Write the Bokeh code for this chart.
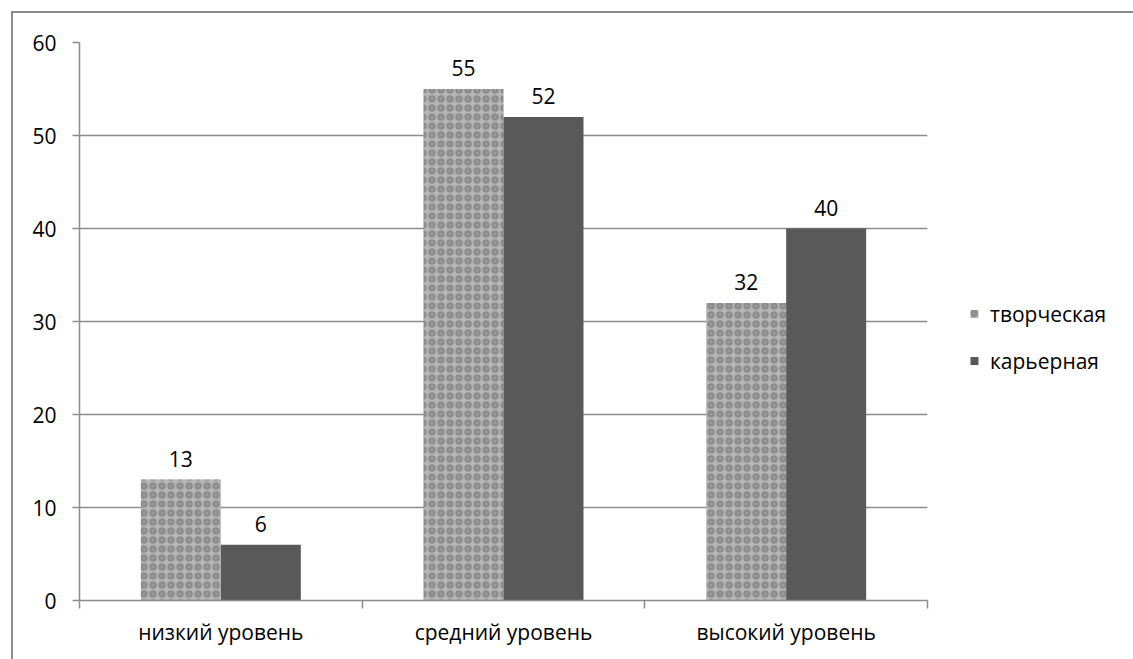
from bokeh.plotting import figure
from bokeh.models import (ColumnDataSource, FixedTicker, LabelSet, Legend, LegendItem, Range1d)
from bokeh.core.properties import value
from bokeh.transform import dodge
from bokeh.embed import file_html
from bokeh.resources import INLINE

categories = ["низкий уровень", "средний уровень", "высокий уровень"]
series_names = ["творческая", "карьерная"]
tvorcheskaya = [13, 55, 32]
karernaya = [6, 52, 40]
y_ticks = [0, 10, 20, 30, 40, 50, 60]

x_pos = [i + 0.5 for i in range(len(categories))]
src = ColumnDataSource(dict(x=x_pos, a=tvorcheskaya, b=karernaya,
                            a_txt=[str(v) for v in tvorcheskaya],
                            b_txt=[str(v) for v in karernaya]))

FONT = "Open Sans"
FS = "21px"
OX, OY = 13, 13          # canvas origin inside the outer border
p = figure(frame_width=927 - 79, frame_height=600 - 42,
           output_backend="svg", toolbar_location=None,
           x_range=Range1d(0, len(categories)), y_range=Range1d(0, 60))
p.min_border_left = 79 - OX
p.min_border_right = 1133 - 927
p.min_border_top = 42 - OY
p.min_border_bottom = 659 - 600
p.outline_line_color = None
p.background_fill_color = "white"
p.border_fill_color = "white"
p.styles = {"border-top": "2px solid #8c8c8c", "border-left": "2px solid #8c8c8c",
            "margin-left": "11px", "margin-top": "11px"}

off = 0.1415
bw = 0.283
r1 = p.vbar(x=dodge("x", -off), top="a", width=bw, source=src,
            fill_color="#b5b5b5", line_color=None,
            hatch_pattern="ring", hatch_color="#5e5e5e", hatch_scale=9,
            hatch_weight=3, hatch_alpha=0.45)
r2 = p.vbar(x=dodge("x", off), top="b", width=bw, source=src,
            fill_color="#595959", line_color=None)

lab_kw = dict(text_font=value(FONT), text_font_size=FS, text_color="black",
              text_align="center", text_baseline="middle", y_offset=21)
p.add_layout(LabelSet(x=dodge("x", -off), y="a", text="a_txt", source=src, **lab_kw))
p.add_layout(LabelSet(x=dodge("x", off), y="b", text="b_txt", source=src, **lab_kw))

# axes
ax = p.xaxis[0]
ax.ticker = FixedTicker(ticks=x_pos, minor_ticks=list(range(len(categories) + 1)))
ax.major_label_overrides = {x: c for x, c in zip(x_pos, categories)}
ax.major_tick_line_color = None
ax.major_tick_in = 0
ax.major_tick_out = 0
ax.minor_tick_in = 0
ax.minor_tick_out = 8
ax.minor_tick_line_color = "#8c8c8c"
ax.minor_tick_line_width = 1.5
ax.axis_line_color = "#8c8c8c"
ax.axis_line_width = 1.5
ax.major_label_text_font = FONT
ax.major_label_text_font_size = FS
ax.major_label_text_color = "black"
ax.major_label_standoff = 9

ay = p.yaxis[0]
ay.ticker = FixedTicker(ticks=y_ticks)
ay.minor_tick_line_color = None
ay.major_tick_in = 0
ay.major_tick_out = 7
ay.major_tick_line_color = "#8c8c8c"
ay.major_tick_line_width = 1.5
ay.axis_line_color = "#8c8c8c"
ay.axis_line_width = 1.5
ay.major_label_text_font = FONT
ay.major_label_text_font_size = FS
ay.major_label_text_color = "black"
ay.major_label_standoff = 16

p.xgrid.grid_line_color = None
p.ygrid.ticker = FixedTicker(ticks=y_ticks)
p.ygrid.grid_line_color = "#8c8c8c"
p.ygrid.grid_line_width = 1.5

legend = Legend(items=[LegendItem(label=series_names[0], renderers=[r1]),
                       LegendItem(label=series_names[1], renderers=[r2])],
                location="center_left", orientation="vertical")
legend.title = " "
legend.title_text_font_size = "20px"
legend.title_standoff = 9
legend.border_line_color = None
legend.background_fill_alpha = 0
legend.padding = 0
legend.margin = 42
legend.spacing = 19
legend.glyph_width = 10
legend.glyph_height = 10
legend.label_height = 20
legend.label_standoff = 11
legend.label_text_font = FONT
legend.label_text_font_size = "21px"
legend.label_text_color = "black"
p.add_layout(legend, "right")

open("out.html", "w").write(file_html(p, INLINE))
